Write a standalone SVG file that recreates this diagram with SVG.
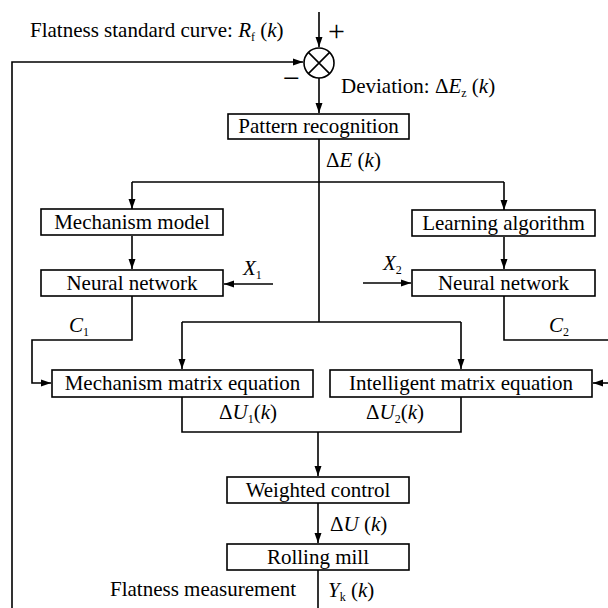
<svg xmlns="http://www.w3.org/2000/svg" width="608" height="608" viewBox="0 0 608 608">
<style>
.box{fill:#fff;stroke:#000;stroke-width:1.6}
.t{font-family:'Liberation Serif','DejaVu Serif',serif;font-size:21px;fill:#000}
.c{text-anchor:middle}
.i{font-style:italic}
.s{font-size:12px}
.big{font-size:30px}
.ln{fill:none;stroke:#000;stroke-width:1.6}
.ar{fill:none;stroke:#000;stroke-width:1.6;marker-end:url(#ah)}
</style>
<defs>
<marker id="ah" markerUnits="userSpaceOnUse" markerWidth="11" markerHeight="8" refX="10" refY="4" orient="auto">
<path d="M0,0.5 L10,4 L0,7.5 Z" fill="#000"/>
</marker>
</defs>
<rect width="608" height="608" fill="#fff"/>
<g id="connectors">
<path class="ar" d="M319,12 V47"/>
<path class="ar" d="M12,608 V62 H303"/>
<path class="ar" d="M319,78 V113"/>
<path class="ln" d="M132,182 H504"/>
<path class="ln" d="M319,139 V322"/>
<path class="ar" d="M132,182 V209"/>
<path class="ar" d="M504,182 V210"/>
<path class="ar" d="M132,236 V269"/>
<path class="ar" d="M504,237 V269"/>
<path class="ar" d="M273,284 H224"/>
<path class="ar" d="M363,283 H411"/>
<path class="ln" d="M182,322 H461"/>
<path class="ar" d="M182,322 V369"/>
<path class="ar" d="M461,322 V369"/>
<path class="ar" d="M132,296 V340 H32 V383 H51"/>
<path class="ln" d="M504,296 V340 H608"/>
<path class="ar" d="M608,383 H593"/>
<path class="ln" d="M182,397 V432 H461 V397"/>
<path class="ar" d="M318,432 V476"/>
<path class="ar" d="M318,503 V543"/>
<path class="ln" d="M318,570 V608"/>
</g>
<g id="sum">
<circle cx="319" cy="63" r="15" fill="#fff" stroke="#000" stroke-width="1.6"/>
<path class="ln" d="M308.4,52.4 L329.6,73.6 M329.6,52.4 L308.4,73.6"/>
</g>
<g id="pattern"><rect class="box" x="228" y="114" width="181" height="25"/><text class="t c" x="318.5" y="133">Pattern recognition</text></g>
<g id="mech-model"><rect class="box" x="41" y="209" width="182" height="26"/><text class="t c" x="132" y="229">Mechanism model</text></g>
<g id="learning"><rect class="box" x="412" y="210" width="183" height="26"/><text class="t c" x="503.5" y="230">Learning algorithm</text></g>
<g id="nn-left"><rect class="box" x="41" y="270" width="182" height="26"/><text class="t c" x="132" y="290">Neural network</text></g>
<g id="nn-right"><rect class="box" x="412" y="270" width="183" height="26"/><text class="t c" x="503.5" y="290">Neural network</text></g>
<g id="mech-matrix"><rect class="box" x="52" y="370" width="261" height="27"/><text class="t c" x="182.5" y="390">Mechanism matrix equation</text></g>
<g id="int-matrix"><rect class="box" x="330" y="370" width="262" height="27"/><text class="t c" x="461" y="390">Intelligent matrix equation</text></g>
<g id="weighted"><rect class="box" x="227" y="477" width="182" height="26"/><text class="t c" x="318" y="497">Weighted control</text></g>
<g id="mill"><rect class="box" x="227" y="544" width="182" height="26"/><text class="t c" x="318" y="564">Rolling mill</text></g>
<g id="labels">
<text class="t" x="30" y="37">Flatness standard curve: <tspan class="i">R</tspan><tspan class="s" dy="4">f</tspan><tspan dy="-4"> (</tspan><tspan class="i">k</tspan>)</text>
<text class="t big" x="328" y="41">+</text>
<text class="t big" x="283" y="88">−</text>
<text class="t" x="341" y="93">Deviation: Δ<tspan class="i">E</tspan><tspan class="s" dy="4">z</tspan><tspan dy="-4"> (</tspan><tspan class="i">k</tspan>)</text>
<text class="t" x="326" y="167">Δ<tspan class="i">E</tspan> (<tspan class="i">k</tspan>)</text>
<text class="t" x="243" y="275"><tspan class="i">X</tspan><tspan class="s" dy="4">1</tspan></text>
<text class="t" x="383" y="270"><tspan class="i">X</tspan><tspan class="s" dy="4">2</tspan></text>
<text class="t" x="69" y="332"><tspan class="i">C</tspan><tspan class="s" dy="4">1</tspan></text>
<text class="t" x="549" y="332"><tspan class="i">C</tspan><tspan class="s" dy="4">2</tspan></text>
<text class="t" x="219" y="419">Δ<tspan class="i">U</tspan><tspan class="s" dy="4">1</tspan><tspan dy="-4">(</tspan><tspan class="i">k</tspan>)</text>
<text class="t" x="366" y="419">Δ<tspan class="i">U</tspan><tspan class="s" dy="4">2</tspan><tspan dy="-4">(</tspan><tspan class="i">k</tspan>)</text>
<text class="t" x="330" y="531">Δ<tspan class="i">U</tspan> (<tspan class="i">k</tspan>)</text>
<text class="t" x="110" y="596">Flatness measurement</text>
<text class="t" x="328" y="597"><tspan class="i">Y</tspan><tspan class="s" dy="4">k</tspan><tspan dy="-4"> (</tspan><tspan class="i">k</tspan>)</text>
</g>
</svg>
